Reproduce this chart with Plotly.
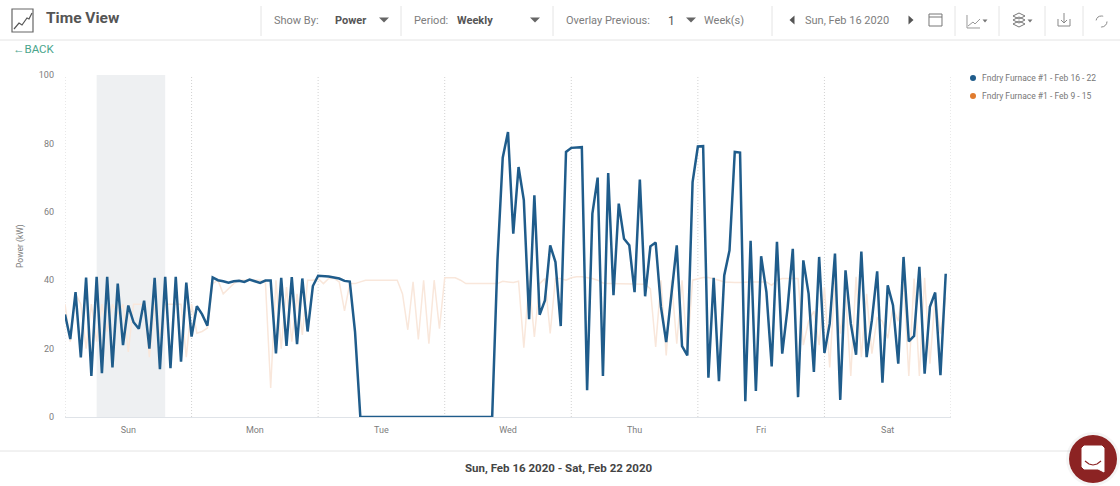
import plotly.graph_objects as go

W = 1120
H = 486

# hourly power readings, one week each
current_week = [
    30, 22.8, 36.5, 17.4, 40.8, 12, 41, 12.8, 41, 14.5, 39, 21, 32.6, 27.7, 25.8, 34, 20, 40.7, 14, 41, 14.3, 41, 16.2, 39.3,
    23.5, 32.4, 30, 26.7, 40.8, 40, 39.7, 39.3, 39.7, 39.8, 39.5, 40.2, 39.7, 39.2, 39.9, 39.9, 18.6, 40.7, 20.8, 40.9, 21.3, 40.5, 25, 38.3,
    41.3, 41.3, 41.1, 40.8, 40.5, 39.8, 39.6, 24.8, 0, 0, 0, 0, 0, 0, 0, 0, 0, 0, 0, 0, 0, 0, 0, 0,
    0, 0, 0, 0, 0, 0, 0, 0, 0, 0, 45.8, 75.8, 83.3, 53.6, 73.1, 63.4, 28.6, 64.8, 29.9, 34.1, 50.2, 45.3, 26.6, 77.5,
    78.7, 78.9, 78.9, 7.8, 59.5, 70, 12, 71.3, 35.6, 62.4, 52.1, 50.2, 36.5, 69.4, 35.3, 49.9, 51, 32.2, 21.9, 36, 50.2, 20.7, 18, 68.7,
    79.1, 79.2, 11.5, 40.7, 10.5, 41.4, 48.7, 77.5, 77.3, 4.6, 51.5, 7.6, 47, 36.5, 14.8, 51.2, 18.5, 31.7, 49.2, 5.8, 45.8, 36, 13.2, 46.8,
    18.7, 27.3, 47.8, 5, 42.9, 27.3, 18.2, 48.4, 17.5, 28.3, 42.6, 10, 38.5, 32.7, 15.6, 46.8, 22.1, 23.7, 43.9, 12.7, 32.2, 36.4, 12.2, 41.9,
]
previous_week = [
    33, 22, 36, 33, 20, 33, 22, 33, 25, 33, 30, 33, 19, 33, 33, 33, 17.5, 33, 24, 33, 33, 33, 33, 17.5,
    33, 24.5, 25, 26, 39, 40, 36, 37.5, 39, 40, 40, 40, 40, 40, 39.5, 8.5, 40, 20, 38, 22, 36, 24, 40, 40,
    40.5, 39, 40.5, 40.5, 39.5, 31, 39, 39, 39.5, 40, 40, 40, 40, 40, 40, 40, 36, 25.5, 39.5, 22.7, 40, 21.4, 40, 25.8,
    40.7, 40.7, 40.7, 40, 39, 39, 39, 39, 39, 39, 39, 39.7, 39.5, 39.3, 39.7, 20.3, 40, 23.4, 39, 40.5, 24.4, 40.5, 40.5, 40,
    40.7, 41, 41, 40.8, 40.5, 40, 39.2, 39, 39, 39, 39, 39, 39, 39, 38.8, 37.5, 20.5, 40, 18, 40, 21.4, 40, 19, 40,
    40.5, 40.8, 40.8, 40.5, 40, 39.5, 39.3, 39.3, 39.3, 39.5, 39.5, 39.5, 39.5, 39.5, 38.5, 40, 40.5, 40.5, 40.5, 40.5, 21, 28, 31, 21,
    38, 14.5, 40, 24.4, 36, 12, 41, 17.5, 36, 18.5, 29, 28, 23, 32, 28, 40, 12, 40.5, 12, 40.7, 15.6, 35, 24.4, 35,
]
hours = list(range(len(current_week)))

day_labels = ['Sun', 'Mon', 'Tue', 'Wed', 'Thu', 'Fri', 'Sat']
day_centers = [12, 36, 60, 84, 108, 132, 156]
day_edges = [0, 24, 48, 72, 96, 120, 144, 168]
power_ticks = [0, 20, 40, 60, 80, 100]
night_band = [6, 19]
series_names = ['Fndry Furnace #1 - Feb 16 - 22', 'Fndry Furnace #1 - Feb 9 - 15']

BLUE = '#1f5c8b'
PEACH = '#f9e7db'
ORANGE = '#e07b2e'
GREY = '#7d7d7d'
DARK = '#555555'
RULE = '#e4e4e4'
FONT = 'Roboto'


def px(x):
    return x / W


def py(y):
    return 1 - y / H


def path(points, close=False):
    s = 'M' + ' L'.join(f'{px(x):.5f},{py(y):.5f}' for x, y in points)
    return s + (' Z' if close else '')


fig = go.Figure()

fig.add_trace(go.Scatter(x=hours, y=previous_week, mode='lines', line=dict(color=PEACH, width=1.5),
                         name=series_names[1], showlegend=False, hoverinfo='skip'))
fig.add_trace(go.Scatter(x=hours, y=current_week, mode='lines', line=dict(color=BLUE, width=2.5),
                         name=series_names[0], showlegend=False))

fig.add_vrect(x0=night_band[0], x1=night_band[1], fillcolor='#eef0f2', line_width=0, layer='below')
for edge in day_edges:
    fig.add_vline(x=edge, line=dict(color='#d2d2d2', width=1, dash='1px,2px'), layer='below')

shapes = []


def line(x0, y0, x1, y1, color=RULE, width=1):
    shapes.append(dict(type='line', xref='paper', yref='paper', x0=px(x0), y0=py(y0), x1=px(x1), y1=py(y1),
                       line=dict(color=color, width=width)))


def poly(points, fill=None, color=DARK, width=1, close=True):
    shapes.append(dict(type='path', xref='paper', yref='paper', path=path(points, close),
                       fillcolor=fill if fill else 'rgba(0,0,0,0)',
                       line=dict(color=color, width=width)))


def dot(cx, cy, r, fill):
    shapes.append(dict(type='circle', xref='paper', yref='paper', x0=px(cx - r), x1=px(cx + r), y0=py(cy + r), y1=py(cy - r),
                       fillcolor=fill, line=dict(width=0)))


def tri_down(cx, cy, w=10, h=5, c='#666666'):
    poly([(cx - w / 2, cy - h / 2), (cx + w / 2, cy - h / 2), (cx, cy + h / 2)], fill=c, color=c, width=0)


def tri_side(cx, cy, d, c='#555555'):
    poly([(cx - d * 2.5, cy - 4.5), (cx - d * 2.5, cy + 4.5), (cx + d * 2.5, cy)], fill=c, color=c, width=0)


# header and footer rules
line(0, 40, W, 40)
line(0, 451, 1070, 451)
for sep in [261, 401, 553, 772, 955, 999, 1045, 1083]:
    line(sep, 6, sep, 36)

# page title icon
poly([(12, 9), (33, 9), (33, 32), (12, 32)], color='#666666', width=1.2)
poly([(14, 29), (19, 23), (22, 25), (27, 18), (29, 19), (32, 13)], color='#555555', width=1.2, close=False)

for cx, cy in [(384, 20), (535, 20), (691, 20)]:
    tri_down(cx, cy)
tri_side(792, 20, -1)
tri_side(911, 20, 1)

# calendar
poly([(929, 14), (942, 14), (942, 26), (929, 26)], color='#777777')
line(929, 17, 942, 17, '#777777')
# chart menu
poly([(967, 15), (967, 28), (980, 28)], color='#999999', close=False)
poly([(968, 26), (973, 22), (975, 24), (980, 19)], color='#999999', close=False)
tri_down(985, 21, 5, 3, '#777777')
# layers menu
for off in [0, 4, 8]:
    poly([(1013, 16 + off), (1019, 13 + off), (1025, 16 + off), (1019, 19 + off)], color='#777777')
tri_down(1030, 21, 5, 3, '#777777')
# download
poly([(1058, 19), (1058, 26), (1070, 26), (1070, 19)], color='#888888', close=False)
line(1064, 13, 1064, 23, '#888888')
poly([(1061, 20), (1064, 23), (1067, 20)], color='#888888', close=False)
# refresh
shapes.append(dict(type='circle', xref='paper', yref='paper', x0=px(1096), x1=px(1107), y0=py(27), y1=py(16),
                   line=dict(color='#888888', width=1, dash='dash')))

# legend, drawn by hand because the plotly swatch sits too far from the text
dot(973, 78, 3, BLUE)
dot(973, 96, 3, ORANGE)

# chat button
dot(1093, 459, 27, 'rgba(0,0,0,0.04)')
dot(1093, 459, 24, '#8c2323')
poly([(1084, 446), (1102, 446), (1104, 448), (1104, 472), (1098, 469), (1084, 469), (1082, 467), (1082, 448)],
     fill='#ffffff', color='#ffffff')
poly([(1085, 461), (1089, 464), (1093, 465), (1097, 464), (1101, 461)], color='#8c2323', width=1.2, close=False)
fig.update_layout(shapes=list(fig.layout.shapes) + shapes)


def label(text, x, y, size=11, color=GREY, bold=False, anchor='left'):
    fig.add_annotation(text=f'<b>{text}</b>' if bold else text, x=px(x), y=py(y), xref='paper', yref='paper',
                       xanchor=anchor, yanchor='middle', showarrow=False, font=dict(family=FONT, size=size, color=color))


label('Time View', 44, 18, size=15.5, color=DARK, bold=True)
label('Show By:', 272, 20, color=GREY)
label('Power', 333, 21, color=DARK, bold=True)
label('Period:', 412, 20, color=GREY)
label('Weekly', 455, 21, color=DARK, bold=True)
label('Overlay Previous:', 564, 20, color=GREY)
label('1', 666, 21, size=12, color=DARK)
label('Week(s)', 702, 21, color=GREY)
label('Sun, Feb 16 2020', 803, 20, color=GREY)
label('←BACK', 11, 49, size=11.5, color='#4aa58c')
label('Sun, Feb 16 2020 - Sat, Feb 22 2020', 558, 468, size=11.5, color='#444444', bold=True, anchor='center')
label(series_names[0], 980, 78, size=8.5, color='#777777')
label(series_names[1], 980, 96, size=8.5, color='#777777')
label('Power (kW)', 20, 246, size=8.5, color=GREY, anchor='center')
fig.layout.annotations[-1].textangle = -90

fig.update_layout(
    width=W,
    height=H,
    margin=dict(l=0, r=0, t=0, b=0, autoexpand=False),
    showlegend=False,
    paper_bgcolor='white',
    plot_bgcolor='white',
    font=dict(family=FONT, size=9, color=GREY),
    xaxis=dict(
        domain=[px(65), px(951)],
        range=[0, 168],
        tickmode='array',
        tickvals=day_centers,
        ticktext=day_labels,
        ticks='',
        showgrid=False,
        zeroline=False,
        showline=True,
        linecolor='#dfe3e8',
        ticklabelstandoff=4,
    ),
    yaxis=dict(
        domain=[py(417), py(75)],
        range=[0, 100],
        tickmode='array',
        tickvals=power_ticks,
        showgrid=False,
        zeroline=False,
        ticks='',
        ticklabelstandoff=10,
    ),
)

fig.write_html("out.html", post_script="document.body.style.margin='0';", config={'displayModeBar': False})
